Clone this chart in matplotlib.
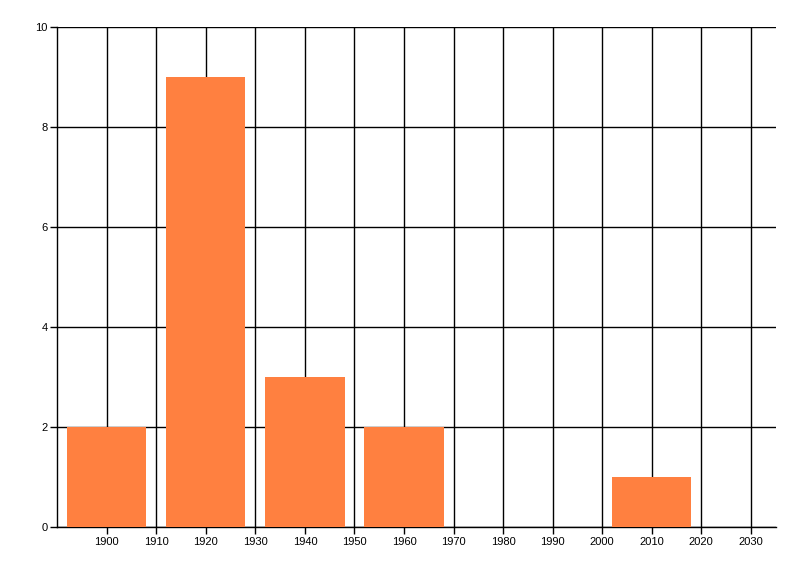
import matplotlib
matplotlib.use("Agg")
import matplotlib.pyplot as plt

years = [1900, 1920, 1940, 1960, 2010]
counts = [2, 9, 3, 2, 1]
x_ticks = [1900, 1910, 1920, 1930, 1940, 1950, 1960, 1970, 1980, 1990, 2000, 2010, 2020, 2030]
y_ticks = [0, 2, 4, 6, 8, 10]

plt.rcParams['font.family'] = ['Liberation Sans', 'DejaVu Sans']
fig = plt.figure(figsize=(8, 5.76), dpi=100)
ax = fig.add_axes([0.0715, 0.085, 0.8980, 0.868])

ax.bar(years, counts, width=16, color='#FF8040', zorder=3)
ax.set_xlim(1890, 2035)
ax.set_ylim(0, 10)
ax.set_xticks(x_ticks)
ax.set_yticks(y_ticks)
ax.grid(True, color='black', linewidth=1, zorder=0)
ax.set_axisbelow(True)
for s in ['top', 'right']:
    ax.spines[s].set_visible(False)
for s in ['left', 'bottom']:
    ax.spines[s].set_linewidth(1)
    ax.spines[s].set_color('black')
ax.tick_params(axis='both', length=5, width=1, labelsize=8, colors='black', pad=2)

fig.savefig("out.png", dpi=100)
